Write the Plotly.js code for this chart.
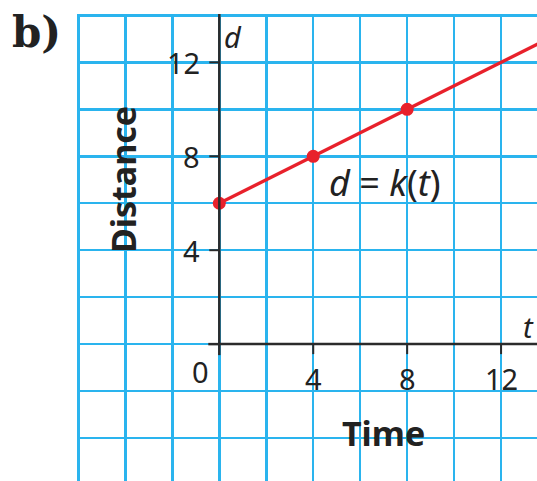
<!DOCTYPE html>
<html>
<head>
<meta charset="utf-8">
<script src="https://cdn.plot.ly/plotly-3.0.1.min.js"></script>
<style>html,body{margin:0;padding:0;background:#fff;overflow:hidden}#chart{width:537px;height:481px}</style>
</head>
<body>
<div id="chart"></div>
<script>
// Data
var pointT = [0, 4, 8];
var pointD = [6, 8, 10];
var lineT = [0, 4, 8, 12, 14];
var lineD = [6, 8, 10, 12, 13];
var xTickVals = [4, 8, 12];
var xTickText = ['4', '8', '12'];
var yTickVals = [4, 8, 12];
var yTickText = ['4', '8', '12'];
var xRange = [-6.06, 13.53];
var yRange = [-5.83, 14.06];

var RED = '#e8212b';
var BLUE = '#2ab4ee';
var AX = '#2b2b2b';
var FONT = 'Noto Sans, Open Sans, sans-serif';

var traces = [
  {x: lineT, y: lineD, mode: 'lines', line: {color: RED, width: 3.2}, hoverinfo: 'skip', showlegend: false},
  {x: pointT, y: pointD, mode: 'markers', marker: {color: RED, size: 13}, showlegend: false, cliponaxis: false}
];

var shapes = [
  // axis lines
  {type: 'line', xref: 'x', yref: 'y', x0: 0, x1: 0, y0: 0, y1: yRange[1], line: {color: AX, width: 2.5}, layer: 'above'},
  {type: 'line', xref: 'x', yref: 'y', xsizemode: 'pixel', xanchor: 0, x0: 0, x1: 0, ysizemode: 'pixel', yanchor: 0, y0: 0, y1: -11, line: {color: AX, width: 2.5}, layer: 'above'},
  {type: 'line', xref: 'x', yref: 'y', x0: 0, x1: xRange[1], y0: 0, y1: 0, line: {color: AX, width: 2.5}, layer: 'above'},
  {type: 'line', xref: 'x', yref: 'y', xsizemode: 'pixel', xanchor: 0, x0: -11, x1: 0, ysizemode: 'pixel', yanchor: 0, y0: 0, y1: 0, line: {color: AX, width: 2.5}, layer: 'above'}
];
xTickVals.forEach(function (v) {
  shapes.push({type: 'line', xref: 'x', yref: 'y', x0: v, x1: v, ysizemode: 'pixel', yanchor: 0, y0: 0, y1: -10, line: {color: AX, width: 2}, layer: 'above'});
});
yTickVals.forEach(function (v) {
  shapes.push({type: 'line', xref: 'x', yref: 'y', xsizemode: 'pixel', xanchor: 0, x0: -10, x1: 0, y0: v, y1: v, line: {color: AX, width: 2}, layer: 'above'});
});

var tickFont = {family: FONT, size: 29, color: '#222'};
var annotations = [];
xTickVals.forEach(function (v, i) {
  annotations.push({x: v, y: 0, xref: 'x', yref: 'y', text: xTickText[i], showarrow: false, xanchor: 'center', yanchor: 'middle', yshift: -34, font: tickFont});
});
yTickVals.forEach(function (v, i) {
  annotations.push({x: 0, y: v, xref: 'x', yref: 'y', text: yTickText[i], showarrow: false, xanchor: 'right', yanchor: 'middle', xshift: -17, font: tickFont});
});
annotations.push({x: 0, y: 0, xref: 'x', yref: 'y', text: '0', showarrow: false, xanchor: 'right', yanchor: 'middle', xshift: -8, yshift: -27, font: tickFont});
annotations.push({x: 0, y: 13.1, xref: 'x', yref: 'y', text: '<i>d</i>', showarrow: false, xanchor: 'left', yanchor: 'middle', xshift: 3, font: tickFont});
annotations.push({x: 13.53, y: 0.75, xref: 'x', yref: 'y', text: '<i>t</i>', showarrow: false, xanchor: 'right', yanchor: 'middle', xshift: -1, font: tickFont});
annotations.push({x: 7.05, y: 6.9, xref: 'x', yref: 'y', text: '<i>d</i> = <i>k</i>(<i>t</i>)', showarrow: false, xanchor: 'center', yanchor: 'middle', font: {family: FONT, size: 36, color: '#222'}});
annotations.push({x: 7.0, y: -3.8, xref: 'x', yref: 'y', text: '<b>Time</b>', showarrow: false, xanchor: 'center', yanchor: 'middle', font: {family: FONT, size: 34, color: '#222'}});
annotations.push({x: -4.13, y: 7.0, xref: 'x', yref: 'y', text: '<b>Distance</b>', showarrow: false, textangle: -90, xanchor: 'center', yanchor: 'middle', font: {family: FONT, size: 34, color: '#222'}});
annotations.push({x: -0.145, y: 1.018, xref: 'paper', yref: 'paper', text: '<b>b)</b>', showarrow: false, xanchor: 'left', yanchor: 'top', font: {family: 'DejaVu Serif, Liberation Serif, serif', size: 42, color: '#222'}});

var layout = {
  width: 537, height: 481,
  margin: {l: 77, r: 0, t: 14, b: 0, pad: 0},
  paper_bgcolor: '#fff', plot_bgcolor: '#fff',
  showlegend: false,
  xaxis: {range: xRange, dtick: 2, tick0: 0, showgrid: true, gridcolor: BLUE, gridwidth: 2.5, zeroline: false, showticklabels: false, ticks: '', showline: false, fixedrange: true},
  yaxis: {range: yRange, dtick: 2, tick0: 0, showgrid: true, gridcolor: BLUE, gridwidth: 2.5, zeroline: false, showticklabels: false, ticks: '', showline: false, fixedrange: true},
  shapes: shapes,
  annotations: annotations
};

Plotly.newPlot('chart', traces, layout, {displayModeBar: false, staticPlot: true});
</script>
</body>
</html>
